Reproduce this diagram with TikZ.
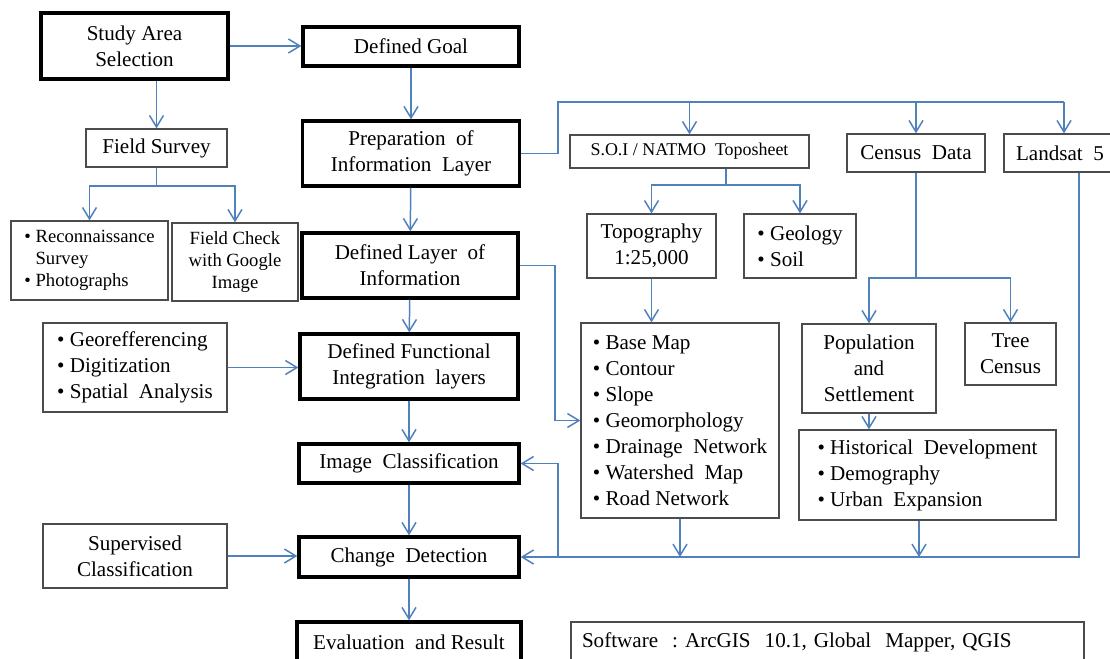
\documentclass[tikz,border=0pt]{standalone}
\usepackage{fontspec}
\setmainfont{Liberation Serif}
\usepackage{tikz}
\usetikzlibrary{arrows.meta,positioning,calc}
\definecolor{linkblue}{RGB}{79,129,189}

\begin{document}
\begin{tikzpicture}[
		sz/.style 2 args={minimum width=#1cm,minimum height=#2cm},
		mb/.style={draw,line width=1.9pt,inner sep=0pt,align=center,font=\fontsize{12}{14.8}\selectfont},
		sb/.style={draw=black!70,line width=0.75pt,inner sep=0pt,align=center,font=\fontsize{12}{14.8}\selectfont},
		lst/.style={sb,align=left},
		sm/.style={font=\fontsize{10.6}{12.6}\selectfont},
		ln/.style={linkblue,line width=0.85pt},
		arr/.style={ln,-{Straight Barb[length=2.3mm,width=2.8mm]}}
		]
		\useasboundingbox (0,0) rectangle (22.2,-13.16);
		
		% centre column
		\node[mb,sz={3.74}{1.32}] (study) at (2.69,-0.92) {Study Area\\Selection};
		\node[mb,sz={4.32}{0.78}] (goal) at (8.22,-0.93) {Defined Goal};
		\node[mb,sz={4.34}{1.30}] (prep) at (8.22,-3.07) {Preparation\ \ of\\Information\ \ Layer};
		\node[mb,sz={4.32}{1.30}] (layer) at (8.2,-5.31) {Defined Layer\ \ of\\Information};
		\node[mb,sz={4.36}{1.30}] (func) at (8.18,-7.33) {Defined Functional\\Integration\ \ layers};
		\node[mb,sz={4.40}{0.78}] (imgcls) at (8.18,-9.27) {Image\ \ Classification};
		\node[mb,sz={4.40}{0.80}] (change) at (8.18,-11.14) {Change\ \ Detection};
		\node[mb,sz={4.48}{0.80}] (eval) at (8.18,-12.84) {Evaluation\ \ and Result};
		
		% left side
		\node[sb,sz={2.82}{0.76}] (field) at (3.13,-2.96) {Field Survey};
		\node[lst,sm,sz={3.14}{1.58}] (recon) at (1.79,-5.21)
		{\textbullet\ Reconnaissance\\\phantom{\textbullet\ }Survey\\\textbullet\ Photographs};
		\node[sb,sm,sz={2.52}{1.56}] (check) at (4.70,-5.24) {Field Check\\with Google\\Image};
		\node[lst,sz={3.68}{1.78}] (georef) at (2.70,-7.35)
		{\textbullet\ Georefferencing\\\textbullet\ Digitization\\\textbullet\ Spatial\ \ Analysis};
		\node[sb,sz={3.68}{1.28}] (superv) at (2.70,-11.12) {Supervised\\Classification};
		
		% right side
		\node[sb,font=\fontsize{10.2}{12}\selectfont,sz={4.78}{0.66}] (soi) at (13.79,-3.03) {S.O.I / NATMO\ \ Toposheet};
		\node[sb,sz={2.76}{0.76}] (census) at (18.32,-3.06) {Census\ \ Data};
		\node[sb,sz={2.24}{0.76}] (landsat) at (21.20,-3.06) {Landsat\ \ 5};
		\node[sb,sz={2.58}{1.28}] (topo) at (13.03,-4.92) {Topography\\1:25,000};
		\node[lst,sz={2.24}{1.28}] (geo) at (16.00,-4.92) {\textbullet\ Geology\\\textbullet\ Soil};
		\node[lst,sz={3.96}{3.90}] (basemap) at (13.60,-8.41)
		{\textbullet\ Base Map\\\textbullet\ Contour\\\textbullet\ Slope\\\textbullet\ Geomorphology\\
			\textbullet\ Drainage\ \ Network\\\textbullet\ Watershed\ \ Map\\\textbullet\ Road Network};
		\node[sb,sz={2.68}{1.78}] (pop) at (17.38,-7.37) {Population\\and\\Settlement};
		\node[sb,sz={1.82}{1.24}] (tree) at (20.21,-7.08) {Tree\\Census};
		\node[lst,sz={5.14}{1.80}] (hist) at (18.55,-9.50)
		{\textbullet\ Historical\ \ Development\\\textbullet\ Demography\\\textbullet\ Urban\ \ Expansion};
		\node[lst,sz={10.26}{0.80},text width=9.82cm,inner xsep=0.22cm] (soft) at (16.55,-12.84)
		{Software\ \ :\ ArcGIS\ \ 10.1,\ Global\ \ Mapper,\ QGIS};
		
		% junctions
		\coordinate (fs) at (3.13,-3.72);
		\coordinate (tl) at (11.16,-2.04);
		\coordinate (tr) at (21.28,-2.04);
		\coordinate (sj) at (14.52,-3.70);
		\coordinate (cj) at (18.32,-5.56);
		\coordinate (lb) at (11.10,-8.41);
		\coordinate (bj) at (11.16,-11.14);
		\coordinate (br) at (21.58,-11.14);
		\coordinate (hb) at (18.38,-11.14);
		
		\draw[arr] (study.east) -- (study.east -| goal.west);
		\draw[arr] (study.south -| field.north) -- (field.north);
		\draw[ln] (field.south) -- (fs);
		\draw[arr] (fs) -| (recon.north);
		\draw[arr] (fs) -| (check.north);
		
		\draw[arr] (goal) -- (prep);
		\draw[arr] (prep) -- (layer);
		\draw[arr] (layer) -- (func);
		\draw[arr] (func) -- (imgcls);
		\draw[arr] (imgcls) -- (change);
		\draw[arr] (change) -- (eval);
		\draw[arr] (georef.east) -- (georef.east -| func.west);
		\draw[arr] (superv.east) -- (superv.east -| change.west);
		
		\draw[ln] (prep.east) -| (tl) -- (tr);
		\draw[arr] (soi.north |- tl) -- (soi.north);
		\draw[arr] (census.north |- tl) -- (census.north);
		\draw[arr] (tr) -- (tr |- landsat.north);
		
		\draw[ln] (sj |- soi.south) -- (sj);
		\draw[arr] (sj) -| (topo.north);
		\draw[arr] (sj) -| (geo.north);
		\draw[ln] (census.south) -- (cj);
		\draw[arr] (cj) -| (pop.north);
		\draw[arr] (cj) -| (tree.north);
		\draw[arr] (topo.south) -- (topo.south |- basemap.north);
		\draw[arr] (pop.south) -- (pop.south |- hist.north);
		
		\draw[arr] (layer.east) -| (lb) -- (basemap.west);
		\draw[arr] (br |- landsat.south) -- (br) -- (change.east);
		\draw[arr] (bj) |- (imgcls.east);
		\draw[arr] (basemap.south) -- (basemap.south |- bj);
		\draw[arr] (hb |- hist.south) -- (hb);
\end{tikzpicture}
\end{document}
